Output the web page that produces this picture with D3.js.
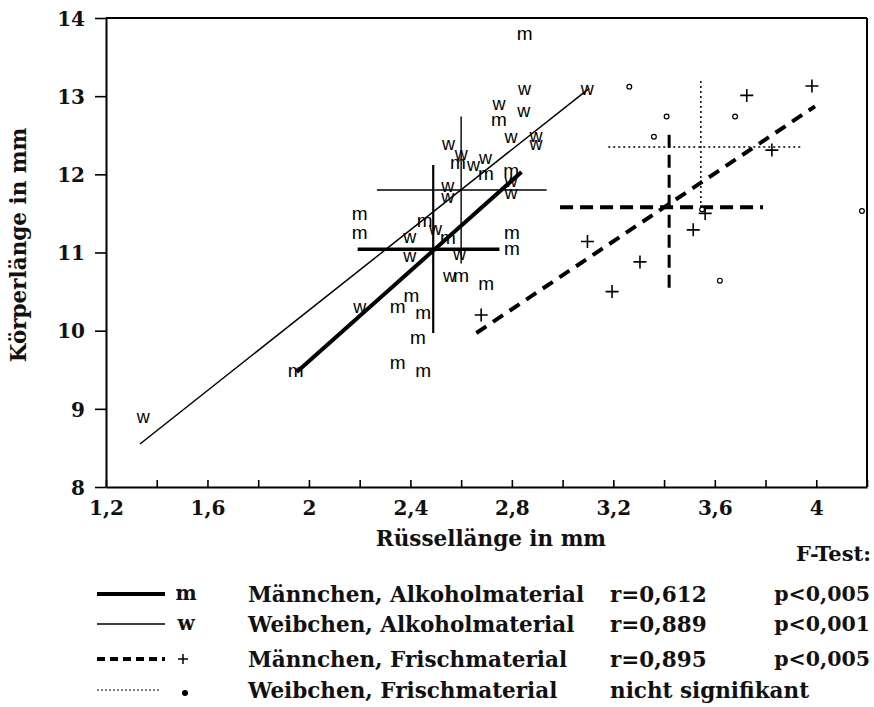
<!DOCTYPE html>
<html><head><meta charset="utf-8">
<script src="https://cdn.jsdelivr.net/npm/d3@7"></script>
<style>
body{margin:0;background:#fff;}
svg{display:block;}
</style></head>
<body>
<svg id="c" width="874" height="707"></svg>
<script>
// ---- data ----
const mAlk = [[2.85,13.78],[2.749,12.69],[2.587,12.14],[2.698,11.99],[2.797,12.03],[2.20,11.48],[2.20,11.24],
  [2.456,11.39],[2.548,11.18],[2.80,11.24],[2.80,11.03],[2.60,10.69],[2.699,10.58],[2.404,10.43],[2.35,10.29],
  [2.45,10.22],[2.43,9.89],[2.35,9.58],[2.45,9.47],[1.948,9.47]];
const wAlk = [[2.85,13.08],[3.097,13.08],[2.749,12.88],[2.847,12.80],[2.797,12.46],[2.895,12.48],[2.895,12.37],
  [2.55,12.37],[2.60,12.25],[2.649,12.10],[2.696,12.19],[2.797,11.90],[2.797,11.75],[2.547,11.84],[2.547,11.69],
  [2.499,11.29],[2.397,11.18],[2.397,10.94],[2.594,10.97],[2.554,10.69],[2.20,10.29],[1.347,8.88]];
const mFrisch = [[3.983,13.13],[3.726,13.01],[3.825,12.31],[3.562,11.50],[3.515,11.29],[3.098,11.14],
  [3.305,10.88],[3.195,10.50],[2.679,10.20]];
const wFrisch = [[3.263,13.12],[3.41,12.74],[3.36,12.48],[3.68,12.74],[3.62,10.64],[4.18,11.53],[3.55,11.55]];

// regression lines [start, end]
const mAlkLine = [[1.952,9.47],[2.838,12.03]];
const wAlkLine = [[1.334,8.55],[3.105,13.10]];
const mFrischLine = [[2.66,9.97],[3.995,12.87]];

// mean crosses: [meanX, meanY, xLow, xHigh, yLow, yHigh]
const mAlkCross = [2.49,11.04,2.192,2.751,9.97,12.12];
const wAlkCross = [2.60,11.80,2.268,2.937,10.86,12.74];
const mFrischCross = [3.42,11.58,2.99,3.79,10.55,12.59];
const wFrischCross = [3.545,12.35,3.18,3.94,11.57,13.20];

const xTickValues = [1.2,1.4,1.6,1.8,2.0,2.2,2.4,2.6,2.8,3.0,3.2,3.4,3.6,3.8,4.0,4.2];
const xTickLabels = {"1.2":"1,2","1.6":"1,6","2":"2","2.4":"2,4","2.8":"2,8","3.2":"3,2","3.6":"3,6","4":"4"};
const yTickValues = [8,9,10,11,12,13,14];

const legendRows = [
  {sym:"m", label:"Männchen, Alkoholmaterial", r:"r=0,612", p:"p<0,005"},
  {sym:"w", label:"Weibchen, Alkoholmaterial", r:"r=0,889", p:"p<0,001"},
  {sym:"+", label:"Männchen, Frischmaterial", r:"r=0,895", p:"p<0,005"},
  {sym:"•", label:"Weibchen, Frischmaterial", r:"nicht signifikant", p:""}
];

// ---- drawing ----
const svg = d3.select("#c");
const L=106, R=867, T=18, B=487;
const x = d3.scaleLinear().domain([1.2,4.2]).range([L,R]);
const y = d3.scaleLinear().domain([8,14]).range([B,T]);
const serif = "'DejaVu Serif', serif";

// axes
const gx = svg.append("g").attr("transform",`translate(0,${B})`)
  .call(d3.axisBottom(x).tickValues(xTickValues).tickSizeInner(-7).tickSizeOuter(0).tickPadding(14)
    .tickFormat(d => xTickLabels[String(+d.toFixed(1))] || ""));
gx.select(".domain").attr("stroke-width",2);
gx.selectAll(".tick line").attr("stroke-width",1.6);
gx.selectAll("text").attr("font-family",serif).attr("font-weight","bold").attr("font-size",20).attr("fill","#111");

const gy = svg.append("g").attr("transform",`translate(${L},0)`)
  .call(d3.axisLeft(y).tickValues(yTickValues).tickSizeInner(11).tickSizeOuter(0).tickPadding(10).tickFormat(d3.format("d")));
gy.select(".domain").attr("stroke-width",2);
gy.selectAll(".tick line").attr("stroke-width",1.6);
gy.selectAll("text").attr("font-family",serif).attr("font-weight","bold").attr("font-size",20).attr("fill","#111").attr("dy","0.36em");

// frame top & right
svg.append("line").attr("x1",L).attr("x2",R).attr("y1",y(14)).attr("y2",y(14)).attr("stroke","#000").attr("stroke-width",2);
svg.append("line").attr("x1",x(4.2)).attr("x2",x(4.2)).attr("y1",T).attr("y2",B).attr("stroke","#000").attr("stroke-width",2);

// axis titles
svg.append("text").attr("x",491).attr("y",546).attr("text-anchor","middle")
  .attr("font-family",serif).attr("font-weight","bold").attr("font-size",21.5).attr("fill","#111").text("Rüssellänge in mm");
svg.append("text").attr("x",871).attr("y",561).attr("text-anchor","end")
  .attr("font-family",serif).attr("font-weight","bold").attr("font-size",21).attr("fill","#111").text("F-Test:");
svg.append("text").attr("transform","translate(26,245) rotate(-90)").attr("text-anchor","middle")
  .attr("font-family",serif).attr("font-weight","bold").attr("font-size",21.5).attr("fill","#111").text("Körperlänge in mm");

const plot = svg.append("g");
const lineGen = d3.line().x(d=>x(d[0])).y(d=>y(d[1]));

// regression lines
plot.append("path").attr("d",lineGen(wAlkLine)).attr("stroke","#000").attr("stroke-width",1.5).attr("fill","none");
plot.append("path").attr("d",lineGen(mAlkLine)).attr("stroke","#000").attr("stroke-width",4).attr("fill","none");
plot.append("path").attr("d",lineGen(mFrischLine)).attr("stroke","#000").attr("stroke-width",4).attr("fill","none")
  .attr("stroke-dasharray","12,8");

// crosses
function cross(c, hw, vw, dash){
  plot.append("line").attr("x1",x(c[2])).attr("x2",x(c[3])).attr("y1",y(c[1])).attr("y2",y(c[1]))
    .attr("stroke","#000").attr("stroke-width",hw).attr("stroke-dasharray",dash);
  plot.append("line").attr("x1",x(c[0])).attr("x2",x(c[0])).attr("y1",y(c[4])).attr("y2",y(c[5]))
    .attr("stroke","#000").attr("stroke-width",vw).attr("stroke-dasharray",dash);
}
cross(wAlkCross,1.4,1.4,null);
cross(mAlkCross,3.5,2.2,null);
cross(mFrischCross,4,3,"13,7");
cross(wFrischCross,1.5,1.5,"2,3");

// points
const sans = "'Liberation Sans', Arial, sans-serif";
plot.selectAll(".m").data(mAlk).join("text").attr("class","m")
  .attr("x",d=>x(d[0])).attr("y",d=>y(d[1])).attr("dy","0.27em").attr("text-anchor","middle")
  .attr("font-family",sans).attr("font-size",19).attr("fill","#000").text("m");
plot.selectAll(".w").data(wAlk).join("text").attr("class","w")
  .attr("x",d=>x(d[0])).attr("y",d=>y(d[1])).attr("dy","0.27em").attr("text-anchor","middle")
  .attr("font-family",sans).attr("font-size",18).attr("fill","#000").text("w");
plot.selectAll(".p").data(mFrisch).join("path").attr("class","p")
  .attr("transform",d=>`translate(${x(d[0])},${y(d[1])})`).attr("d","M-6.5,0H6.5M0,-6.5V6.5")
  .attr("stroke","#000").attr("stroke-width",1.6).attr("fill","none");
plot.selectAll(".o").data(wFrisch).join("circle").attr("class","o")
  .attr("cx",d=>x(d[0])).attr("cy",d=>y(d[1])).attr("r",2.4)
  .attr("stroke","#000").attr("stroke-width",1.2).attr("fill","#fff");

// legend
const rowY = [594, 624, 659, 690];
const lg = svg.append("g");
const lineStyles = [
  {w:4, dash:null},{w:1.4, dash:null},{w:4, dash:"8,5"},{w:1.2, dash:"2,2"}
];
legendRows.forEach((r,i)=>{
  const yy = rowY[i];
  lg.append("line").attr("x1",97).attr("x2",i==3?160:165).attr("y1",yy).attr("y2",yy)
    .attr("stroke","#000").attr("stroke-width",lineStyles[i].w).attr("stroke-dasharray",lineStyles[i].dash);
  if(r.sym==="+"){
    lg.append("path").attr("transform",`translate(183,${yy})`).attr("d","M-5,0H5M0,-5V5").attr("stroke","#000").attr("stroke-width",1.5);
  } else if(r.sym==="•"){
    lg.append("circle").attr("cx",185).attr("cy",yy+3).attr("r",3).attr("fill","#000");
  } else {
    lg.append("text").attr("x",186).attr("y",yy).attr("dy","0.3em").attr("text-anchor","middle")
      .attr("font-family",serif).attr("font-weight","bold").attr("font-size",20).attr("fill","#111").text(r.sym);
  }
  const t = (xx,s,anchor,fs)=>lg.append("text").attr("x",xx).attr("y",yy).attr("dy","0.35em")
    .attr("text-anchor",anchor||"start")
    .attr("font-family",serif).attr("font-weight","bold").attr("font-size",fs||21.5).attr("fill","#111").text(s);
  t(248, r.label);
  t(610, r.r);
  if(r.p) t(870, r.p, "end", 20.5);
});
</script>
</body></html>
